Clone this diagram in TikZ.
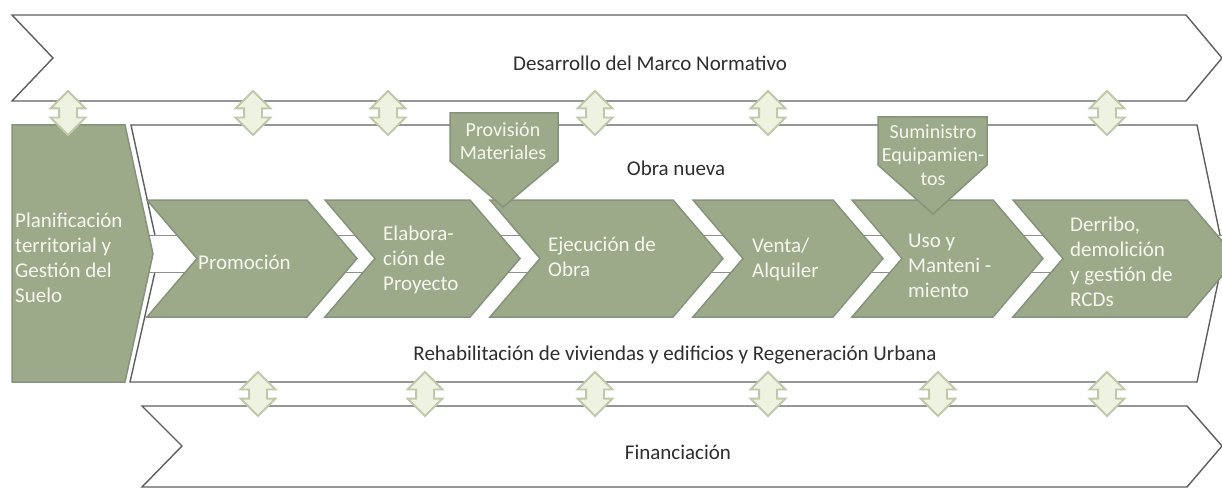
\documentclass[tikz,border=0pt]{standalone}
\usepackage{fontspec}
\setmainfont{Carlito}
\usetikzlibrary{shapes.arrows}
\definecolor{sage}{HTML}{9DAA8A}
\definecolor{sageline}{HTML}{85937A}
\definecolor{bandline}{HTML}{5E5E5E}
\definecolor{arrfill}{HTML}{EEF2E0}
\definecolor{arrline}{HTML}{BFC9A8}
\definecolor{labeltext}{HTML}{2E2E2E}
\definecolor{whitetext}{HTML}{F6F6EF}
\begin{document}
\begin{tikzpicture}[x=1pt,y=-1pt,
  band/.style={fill=white,draw=bandline,line width=1.4pt,line join=miter},
  bar/.style={fill=white,draw=bandline!70,line width=1pt},
  chev/.style={fill=sage,draw=sageline,line width=1.5pt,line join=miter},
  udarrow/.style={shape=double arrow,rotate=90,fill=arrfill,draw=arrline,line width=1.8pt,
    minimum height=44pt,minimum width=0pt,double arrow head extend=8.5pt,inner xsep=0pt,inner ysep=8pt},
  bandlabel/.style={text=labeltext,font=\fontsize{21}{25}\selectfont,inner sep=0pt},
  steplabel/.style={text=whitetext,font=\fontsize{21}{25}\selectfont,align=left,anchor=west,inner sep=0pt},
  calllabel/.style={text=whitetext,font=\fontsize{20}{23.5}\selectfont,align=center,inner sep=0pt}]
\useasboundingbox (0,0) rectangle (1222,489);
\begin{scope}
\clip (0,0) rectangle (1222,489);
% bands
\draw[band] (12,15) -- (1186,15) -- (1222,58) -- (1186,101) -- (12,101) -- (53,58) -- cycle;
\draw[band] (131,125) -- (1197,125) -- (1224,254) -- (1197,382) -- (130,382) -- (159,254) -- cycle;
\draw[band] (142,406) -- (1187,406) -- (1222,446) -- (1187,487) -- (142,487) -- (182,446) -- cycle;
% hidden bar behind the steps
\draw[bar] (147,235) rectangle (1230,272);
% steps
\foreach \l/\r in {147/307,325/470,490/673,693/833,852/993,1013/1187}{
  \draw[chev] (\l,200) -- (\r,200) -- (\r+50,258.5) -- (\r,317) -- (\l,317) -- (\l+50,258.5) -- cycle;
}
% planning block
\draw[chev] (12,125) -- (125,125) -- (153,254) -- (125,382) -- (12,382) -- cycle;
% callouts
\draw[chev] (450,113) -- (558,113) -- (558,161) -- (503,207) -- (450,161) -- cycle;
\draw[chev] (878,117) -- (987,117) -- (987,165) -- (933,214) -- (878,165) -- cycle;
% up-down arrows
\foreach \x [count=\i] in {68,253,388,595,768,1107}{
  \node[udarrow] (a\i) at (\x,113) {};
}
\foreach \x [count=\i] in {258,425,595,768,938,1107}{
  \node[udarrow] (b\i) at (\x,394) {};
}
% labels
\node[bandlabel] (norm) at (650,63) {Desarrollo del Marco Normativo};
\node[bandlabel] (obra) at (676,168) {Obra nueva};
\node[bandlabel] (rehab) at (675,355) {Rehabilitación de viviendas y edificios y Regeneración Urbana};
\node[bandlabel] (fin) at (678,452) {Financiación};
\node[steplabel] (plan) at (15,258) {Planificación\\territorial y\\Gestión del\\Suelo};
\node[steplabel] (prom) at (198,262) {Promoción};
\node[steplabel] (elab) at (383,260) {Elabora-\\ción de\\Proyecto};
\node[steplabel] (ejec) at (548,257) {Ejecución de\\Obra};
\node[steplabel] (venta) at (752,259) {Venta/\\Alquiler};
\node[steplabel] (uso) at (908,266) {Uso y\\Manteni -\\miento};
\node[steplabel] (derr) at (1070,262) {Derribo,\\demolición\\y gestión de\\RCDs};
\node[calllabel] (prov) at (503,141) {Provisión\\Materiales};
\node[calllabel] (sumi) at (933,155) {Suministro\\Equipamien-\\tos};
\end{scope}
\end{tikzpicture}
\end{document}
